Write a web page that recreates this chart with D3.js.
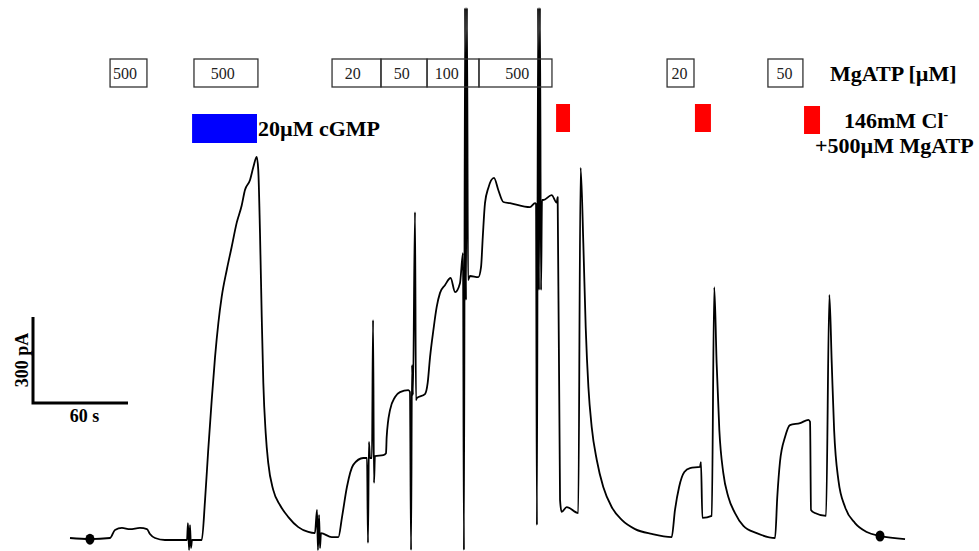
<!DOCTYPE html>
<html><head><meta charset="utf-8">
<script src="https://cdn.jsdelivr.net/npm/d3@7"></script>
<style>body{margin:0;background:#fff}svg{display:block}</style>
</head><body>
<svg id="c" width="979" height="551"></svg>
<script>
// Current trace: time (s), current (pA)
const traceT = [0,12.6,25.3,28.4,32.8,37.9,44.2,48.6,50.5,53.7,60.0,73.9,
 74.5,75.2,75.8,76.4,77.1,
 83.2,85.3,87.3,89.5,91.6,93.7,95.8,99.0,102.1,105.3,108.4,110.5,113.7,115.8,117.9,
 118.9,120.0,121.1,122.1,123.6,125.2,128.4,132.6,137.9,144.2,150.5,154.7,
 156.0,156.6,157.3,157.9,158.5,165.3,169.5,
 171.8,174.9,178.9,185.2,187.6,
 188.2,188.8,189.5,190.7,191.4,192.0,192.6,
 197.9,199.6,200.0,202.1,205.3,208.4,213.7,
 214.7,215.4,216.0,216.6,217.9,218.5,
 219.0,224.2,225.9,227.4,229.5,231.6,233.7,236.8,240.4,243.2,246.3,
 248.2,248.8,249.5,250.1,250.7,251.4,
 252.6,257.9,259.6,260.7,262.1,264.2,267.8,270.5,273.7,277.9,290.5,293.7,
 294.3,294.9,295.6,296.2,296.8,297.5,298.1,
 298.9,304.2,307.4,308.0,
 309.5,310.5,313.7,321.0,
 322.5,324.2,325.7,327.4,329.5,332.7,336.8,342.1,348.5,356.9,367.4,380.0,
 382.1,384.7,388.0,391.6,397.9,398.5,
 399.4,405.3,406.9,408.4,410.1,412.6,415.8,420.0,425.3,433.7,445.3,
 446.7,448.4,451.6,454.7,461.1,466.4,467.4,
 468.0,470.5,477.5,479.6,481.1,482.6,485.3,489.5,495.8,503.2,511.6,527.4];
const traceI = [7,3,7,35,42,38,42,38,21,7,0,0,
 59,-35,52,-28,0,
 0,140,314,488,638,757,848,942,1022,1107,1166,1221,1256,1301,1336,
 1291,1071,778,548,373,269,174,122,80,45,28,24,
 105,-35,87,-28,24,10,10,
 80,185,262,286,286,
 -10,342,286,286,767,199,293,
 296,303,359,453,499,516,523,
 516,-35,610,506,1144,488,
 495,509,548,638,732,813,862,889,914,865,896,
 1001,-35,1856,837,1856,907,
 921,917,952,1057,1175,1228,1263,1221,1179,1175,1161,1175,
 1172,52,1856,872,1856,872,1186,
 1186,1203,1177,1196,
 140,98,115,94,
 1298,1036,743,534,394,279,185,115,70,38,21,10,
 105,185,237,251,255,272,
 77,84,882,617,384,234,150,94,49,24,7,
 150,272,359,401,408,419,412,
 105,94,84,855,617,384,209,115,59,28,14,3];
const markerT = [12.6, 511.6];
const markerI = [3, 14];

// MgATP applications (s) and concentrations (µM)
const atpStart = [25.3, 78.3, 165.5, 196.4, 225.5, 258.3, 377.1, 440.8];
const atpEnd   = [48.6, 118.7, 196.4, 225.5, 258.3, 304.4, 394.1, 462.9];
const atpLabel = ["500","500","20","50","100","500","20","50"];
const atpLabelT = [34.7, 96.5, 178.5, 209.5, 237.9, 282.4, 385.0, 451.2];
// cGMP application
const cgmpStart = [77.1], cgmpEnd = [118.1];
// 146 mM Cl- + 500 µM MgATP applications
const clStart = [307.0, 394.7, 463.6];
const clEnd   = [315.8, 404.8, 473.7];

const svg = d3.select("#c");
const x = d3.scaleLinear().domain([0, 60]).range([70, 165]);
const y = d3.scaleLinear().domain([0, 300]).range([540, 454]);
const serif = "'Liberation Serif','Times New Roman',serif";

// trace
const pts = traceT.map((t,i)=>[t, traceI[i]]);
svg.append("path").datum(pts)
  .attr("d", d3.line().curve(d3.curveMonotoneX).x(d=>x(d[0])).y(d=>y(d[1])))
  .attr("fill","none").attr("stroke","#000").attr("stroke-width",1.8)
  .attr("stroke-linejoin","round");
svg.selectAll("ellipse.mk").data(markerT).join("ellipse")
  .attr("cx",(d)=>x(d)).attr("cy",(d,i)=>y(markerI[i]))
  .attr("rx",4.5).attr("ry",5.5).attr("fill","#000");

// MgATP boxes
const g = svg.append("g");
g.selectAll("rect.atp").data(atpStart).join("rect")
  .attr("x",d=>x(d)).attr("y",59)
  .attr("width",(d,i)=>x(atpEnd[i])-x(d)).attr("height",28)
  .attr("fill","none").attr("stroke","#333").attr("stroke-width",1.3);
g.selectAll("text.atp").data(atpLabel).join("text")
  .attr("x",(d,i)=>x(atpLabelT[i])).attr("y",79)
  .attr("text-anchor","middle").attr("font-family",serif).attr("font-size",16)
  .attr("fill","#222").text(d=>d);
svg.append("text").attr("x",830).attr("y",81).attr("font-family",serif)
  .attr("font-weight","bold").attr("font-size",22).text("MgATP [µM]");

// cGMP bar
svg.selectAll("rect.cg").data(cgmpStart).join("rect")
  .attr("x",d=>x(d)).attr("y",114).attr("width",(d,i)=>x(cgmpEnd[i])-x(d)).attr("height",29)
  .attr("fill","#0000ff");
svg.append("text").attr("x",258).attr("y",136).attr("font-family",serif)
  .attr("font-weight","bold").attr("font-size",22).text("20µM cGMP");

// Cl bars
svg.selectAll("rect.cl").data(clStart).join("rect")
  .attr("x",d=>x(d)).attr("y",(d,i)=>i==2?106:104).attr("width",(d,i)=>x(clEnd[i])-x(d)).attr("height",28)
  .attr("fill","#ff0000");
const t1 = svg.append("text").attr("x",844).attr("y",128).attr("font-family",serif)
  .attr("font-weight","bold").attr("font-size",22);
t1.append("tspan").text("146mM Cl");
t1.append("tspan").attr("dy",-9).attr("font-size",14).text("-");
svg.append("text").attr("x",815).attr("y",153).attr("font-family",serif)
  .attr("font-weight","bold").attr("font-size",22).text("+500µM MgATP");

// scale bars
const bx = 33, by = 403;
const w60 = x(60)-x(0), h300 = y(0)-y(300);
svg.append("path").attr("d",`M${bx},${by-h300}V${by}H${bx+w60}`)
  .attr("fill","none").attr("stroke","#000").attr("stroke-width",3);
svg.append("text").attr("x",bx+w60/2+4).attr("y",422).attr("text-anchor","middle")
  .attr("font-family",serif).attr("font-weight","bold").attr("font-size",18).text("60 s");
svg.append("text").attr("transform",`translate(28,${by-h300/2}) rotate(-90)`)
  .attr("text-anchor","middle").attr("font-family",serif).attr("font-weight","bold")
  .attr("font-size",18).text("300 pA");
</script>
</body></html>
